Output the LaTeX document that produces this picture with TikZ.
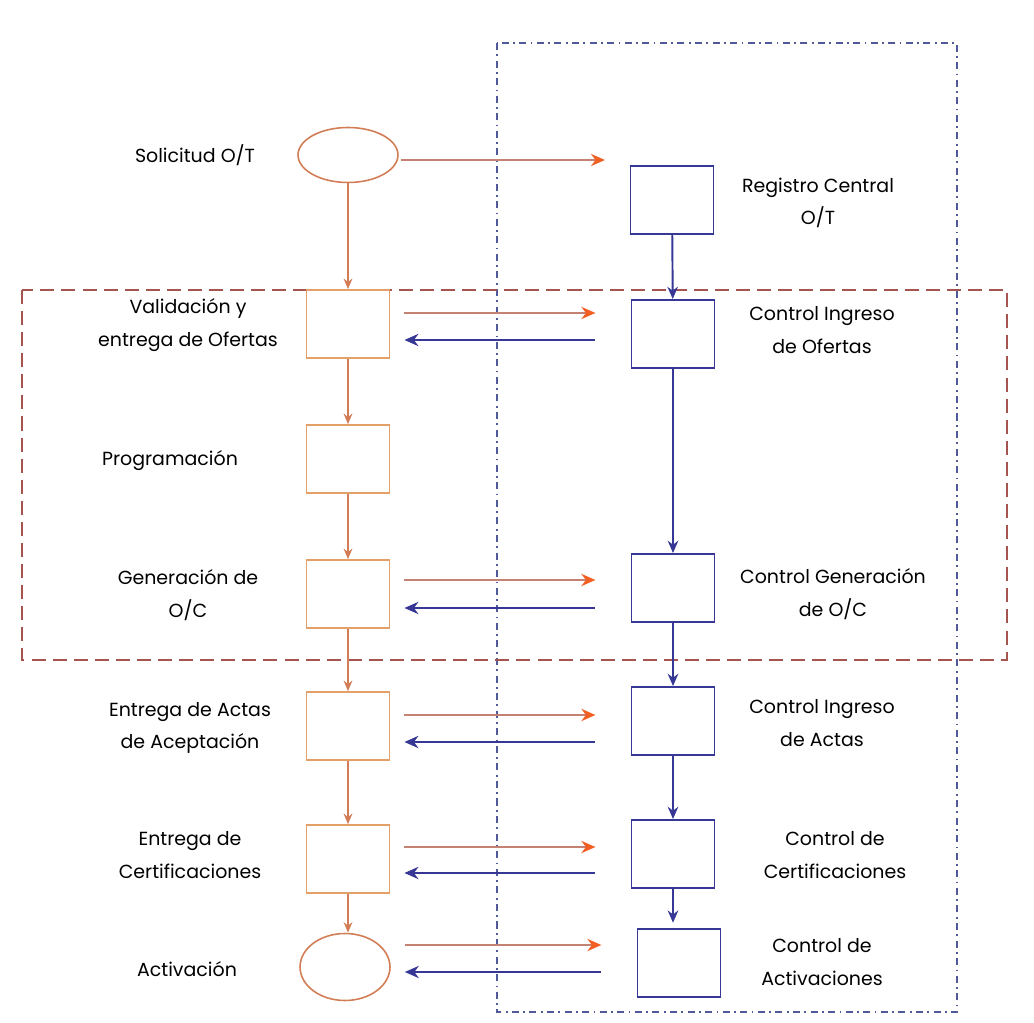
\documentclass[tikz,border=0pt]{standalone}
\usepackage{fontspec}
\setmainfont{Poppins}
\usetikzlibrary{arrows.meta,shapes.geometric}
\definecolor{boxor}{RGB}{228,160,105}
\definecolor{lineor}{RGB}{210,125,85}
\definecolor{tipor}{RGB}{242,95,35}
\definecolor{linebr}{RGB}{195,130,115}
\definecolor{blu}{RGB}{55,55,150}
\definecolor{dashbr}{RGB}{165,85,80}
\definecolor{dashbl}{RGB}{80,90,155}

\begin{document}
\begin{tikzpicture}[x=0.02cm,y=-0.02cm,
    lbox/.style={draw=boxor,line width=1pt,minimum width=1.66cm,minimum height=1.36cm,inner sep=0pt},
    rbox/.style={draw=blu,line width=1.1pt,minimum width=1.66cm,minimum height=1.36cm,inner sep=0pt},
    oval/.style={draw=lineor,ellipse,line width=0.9pt,inner sep=0pt},
    lbl/.style={align=center,font=\fontsize{10.8}{18.5}\selectfont},
    down/.style={draw=lineor,line width=0.9pt,-{Stealth[length=6pt,width=5pt]}},
    bdown/.style={draw=blu,line width=1.1pt,-{Stealth[length=7pt,width=6pt]}},
    toright/.style={draw=linebr,line width=1pt,-{Stealth[length=8pt,width=7pt,color=tipor]},shorten <=8pt,shorten >=20pt},
    toleft/.style={draw=blu,line width=1pt,{Stealth[length=8pt,width=7pt]}-,shorten <=8pt,shorten >=20pt}]
  \useasboundingbox (0,0) rectangle (1034,1023);
  % frames
  \draw[dashbl,line width=0.8pt,dash pattern=on 4pt off 2.5pt on 1pt off 2.5pt] (497,43) rectangle (957,1012);
  \draw[dashbr,line width=1.1pt,dash pattern=on 8pt off 4pt] (22,290) rectangle (1007,660);

  % left column
  \node[oval,minimum width=2cm,minimum height=1.1cm] (sol) at (348,155) {};
  \node[lbox] (val) at (348,324) {};
  \node[lbox] (prog) at (348,459) {};
  \node[lbox] (gen) at (348,594) {};
  \node[lbox] (act) at (348,726) {};
  \node[lbox] (cert) at (348,859) {};
  \node[oval,minimum width=1.8cm,minimum height=1.34cm] (activ) at (345,967) {};

  \node[lbl] (tsol) at (195,155) {Solicitud O/T};
  \node[lbl] (tval) at (188,325) {Validación y\\entrega de Ofertas};
  \node[lbl] (tprog) at (170,461) {Programación};
  \node[lbl] (tgen) at (188,595) {Generación de\\O/C};
  \node[lbl] (tact) at (190,728) {Entrega de Actas\\de Aceptación};
  \node[lbl] (tcert) at (190,855) {Entrega de\\Certificaciones};
  \node[lbl] (tactiv) at (187,969) {Activación};

  % right column
  \node[rbox] (reg) at (672,200) {};
  \node[rbox] (cio) at (673,334) {};
  \node[rbox] (cgen) at (673,588) {};
  \node[rbox] (cact) at (673,721) {};
  \node[rbox] (ccert) at (673,854) {};
  \node[rbox] (cactiv) at (679,963) {};

  \node[lbl] (treg) at (818,203) {Registro Central\\O/T};
  \node[lbl] (tcio) at (822,330) {Control Ingreso\\de Ofertas};
  \node[lbl] (tcgen) at (833,594) {Control Generación\\de O/C};
  \node[lbl] (tcact) at (822,723) {Control Ingreso\\de Actas};
  \node[lbl] (tccert) at (835,855) {Control de\\Certificaciones};
  \node[lbl] (tcactiv) at (822,962) {Control de\\Activaciones};

  % left flow
  \draw[down] (sol.south) -- (val.north);
  \draw[down] (val) -- (prog);
  \draw[down] (prog) -- (gen);
  \draw[down] (gen) -- (act);
  \draw[down] (act) -- (cert);
  \draw[down] (cert.south) -- (cert.south |- activ.north);

  % right flow
  \draw[bdown] (reg) -- (cio);
  \draw[bdown] (cio) -- (cgen);
  \draw[bdown] (cgen) -- (cact);
  \draw[bdown] (cact) -- (ccert);
  \draw[bdown] (ccert.south) -- ([yshift=3pt]ccert.south |- cactiv.north);

  % exchanges
  \draw[toright,shorten <=1pt,shorten >=14pt] ([shift={(0,5)}]sol.east) -- ([shift={(0,5)}]sol.east -| reg.west);
  \foreach \a/\b/\u/\v in {val/cio/-11/16,gen/cgen/-14/14,act/cact/-11/16,cert/ccert/-12/14,activ/cactiv/-22/5}{
    \draw[toright] ([shift={(0,\u)}]\a.east) -- ([shift={(0,\u)}]\a.east -| \b.west);
    \draw[toleft] ([shift={(0,\v)}]\a.east) -- ([shift={(0,\v)}]\a.east -| \b.west);
  }
\end{tikzpicture}
\end{document}
